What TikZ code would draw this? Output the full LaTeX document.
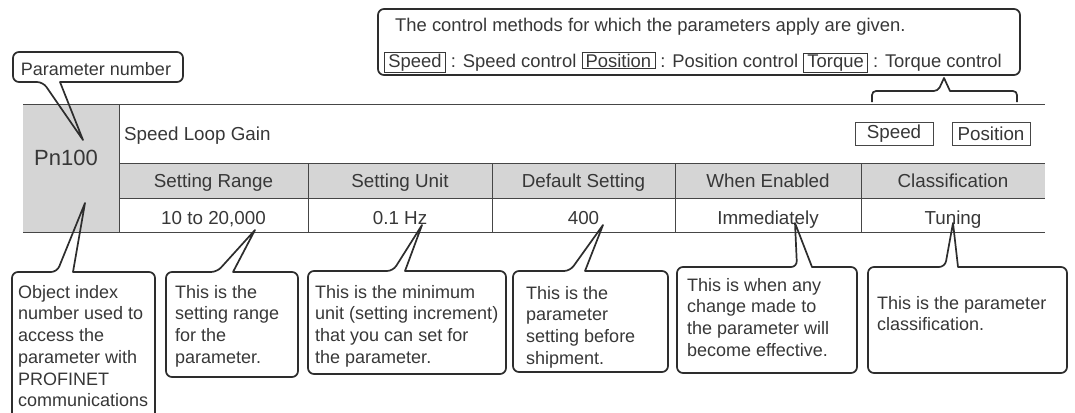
\documentclass[tikz,border=0pt]{standalone}
\usepackage{fontspec}
\setmainfont{Liberation Sans}
\definecolor{txtc}{RGB}{55,55,55}
\definecolor{linec}{RGB}{45,45,45}
\definecolor{tlc}{RGB}{70,70,70}
\definecolor{cellgray}{RGB}{213,213,213}
\setlength{\fboxsep}{1pt}
\setlength{\fboxrule}{0.7pt}
\newcommand{\tagbox}[1]{\fbox{\hspace{2.5pt}#1\hspace{2.5pt}}}
\newcommand{\mycallout}[8]{\draw[callout] (#7,#8) -- (#6,#2) [rounded corners=6pt] -- (#3,#2) -- (#3,#4) -- (#1,#4) -- (#1,#2) -- (#5,#2) [sharp corners] -- cycle;}
\begin{document}
\begin{tikzpicture}[x=1pt,y=-1pt,
  every node/.style={inner sep=0pt, text=txtc},
  body/.style={font=\fontsize{18}{21.7}\selectfont},
  big/.style={font=\fontsize{18.8}{22}\selectfont},
  toptext/.style={font=\fontsize{18.4}{22}\selectfont},
  callout/.style={draw=linec, line width=1.7pt, line join=round},
  tline/.style={draw=tlc, line width=0.9pt},
  tag/.style={draw=tlc, line width=0.8pt, minimum width=78pt, minimum height=23pt, big},
  note/.style={body, anchor=north west, align=left},
]
\useasboundingbox (0,0) rectangle (1075,412);

% table fills
\fill[cellgray] (23,104) rectangle (119,232);
\fill[cellgray] (119,163) rectangle (1045,198);
% table lines
\draw[tline] (23,104) -- (1045,104);
\draw[tline] (119,163) -- (1045,163);
\draw[tline] (119,198) -- (1045,198);
\draw[tline] (23,232) -- (1045,232);
\draw[tline] (119,104) -- (119,232);
\foreach \x in {308,492,675,861} \draw[tline] (\x,163) -- (\x,232);

% table text
\node[font=\fontsize{22}{26}\selectfont, anchor=base] (pn) at (66,165) {Pn100};
\node[big, anchor=base west] (pname) at (124,140) {Speed Loop Gain};
\node[tag] (tagspeed) at (894,133.5) {Speed};
\node[tag] (tagpos) at (991,133.5) {Position};

\node[big, anchor=base] (h1) at (213.5,187) {Setting Range};
\node[big, anchor=base] (h2) at (400,187) {Setting Unit};
\node[big, anchor=base] (h3) at (583.5,187) {Default Setting};
\node[big, anchor=base] (h4) at (768,187) {When Enabled};
\node[big, anchor=base] (h5) at (953,187) {Classification};

\node[big, anchor=base] (d1) at (213.5,224) {10 to 20,000};
\node[big, anchor=base] (d2) at (400,224) {0.1 Hz};
\node[big, anchor=base] (d3) at (583.5,224) {400};
\node[big, anchor=base] (d4) at (768,224) {Immediately};
\node[big, anchor=base] (d5) at (953,224) {Tuning};

% top callout
\draw[callout, rounded corners=6pt] (378,9) rectangle (1020,75);
\node[toptext, anchor=base west] (top1) at (395,32) {The control methods for which the parameters apply are given.};
\node[toptext, anchor=base west] (top2) at (384,67) {\tagbox{Speed} : Speed control \tagbox{Position} : Position control \tagbox{Torque} : Torque control};
% bracket
\draw[callout] (872,102) [rounded corners=4pt] -- (872,91) -- (938,91) [sharp corners] -- (944,78) -- (950,91) [rounded corners=4pt] -- (1017,91) -- (1017,102);

% parameter number callout (pointer from bottom edge)
\mycallout{13}{82}{183}{52}{43}{60}{83}{140}
\node[body, anchor=base] (pnlabel) at (96,75) {Parameter number};

% bottom callouts
\draw[callout] (12,414) [rounded corners=6pt] -- (12,272) -- (57,272) [sharp corners] -- (85,203) -- (73,272) [rounded corners=6pt] -- (155,272) -- (155,414);
\node[note] (n1) at (18,285) {Object index\\number used to\\access the\\parameter with\\PROFINET\\communications};

\mycallout{166}{272}{298}{377}{217}{233}{255}{230}
\node[note] (n2) at (175,285) {This is the\\setting range\\for the\\parameter.};

\mycallout{308}{271}{506}{374}{393}{405}{422}{225}
\node[note] (n3) at (315,285) {This is the minimum\\unit (setting increment)\\that you can set for\\the parameter.};

\mycallout{513}{271}{668}{372}{570}{585}{603}{225}
\node[note] (n4) at (526,286) {This is the\\parameter\\setting before\\shipment.};

\mycallout{677}{267}{857}{373}{797}{812}{795}{223}
\node[note] (n5) at (687,278) {This is when any\\change made to\\the parameter will\\become effective.};

\mycallout{868}{267}{1067}{373}{945}{958}{953}{223}
\node[note] (n6) at (877,296) {This is the parameter\\classification.};
\end{tikzpicture}
\end{document}
